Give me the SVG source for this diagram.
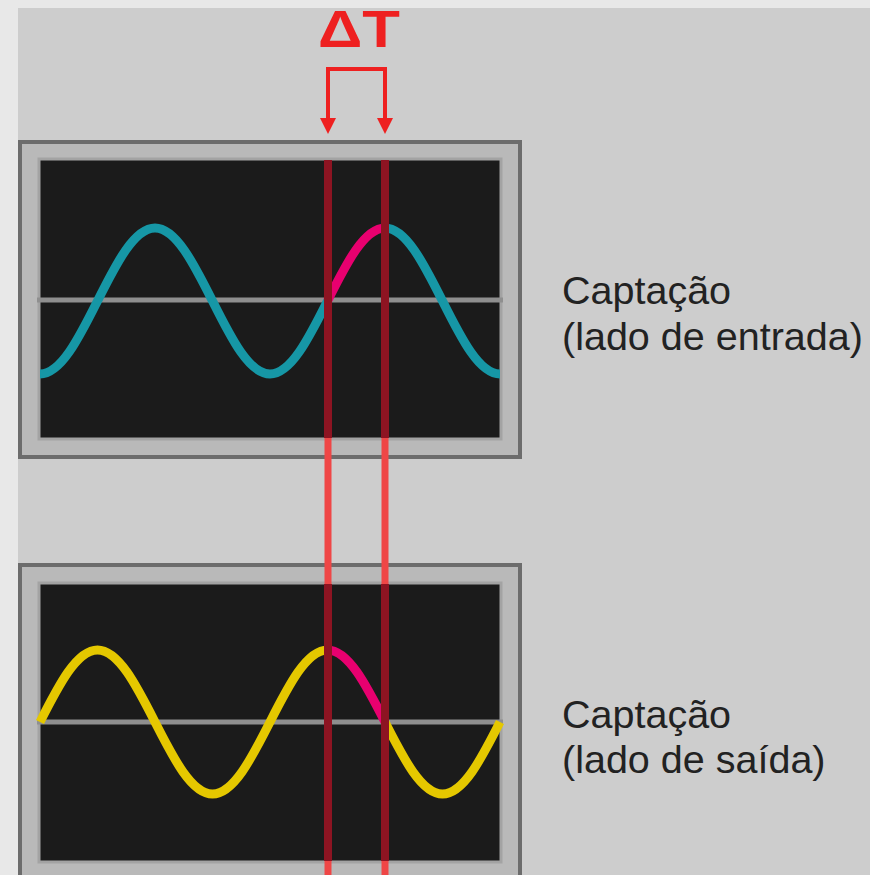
<svg xmlns="http://www.w3.org/2000/svg" width="870" height="875" viewBox="0 0 870 875">
<defs>
<style>
.frame{fill:#b9b9b9;stroke:#6c6c6c;stroke-width:4}
.screen{fill:#1b1b1b;stroke:#a3a3a3;stroke-width:3}
.axis{stroke:#8f8f8f;stroke-width:5;fill:none}
.cyan{stroke:#1697a6;stroke-width:9;fill:none}
.yellow{stroke:#e5c800;stroke-width:9;fill:none}
.mag{stroke:#e8006f;stroke-width:9;fill:none}
.rin{stroke:#8d1422;stroke-width:8;fill:none}
.rout{stroke:#ef4646;stroke-width:7;fill:none}
.lbl{font-family:"Liberation Sans",Arial,sans-serif;font-size:39.5px;fill:#222}
.red{stroke:#ee2020;stroke-width:4;fill:none}
</style>
</defs>
<rect x="0" y="0" width="870" height="875" fill="#e8e8e8"/>
<rect x="18" y="8" width="852" height="867" fill="#cdcdcd"/>

<g id="scope-top">
<rect class="frame" x="20" y="142" width="500" height="315"/>
<rect class="screen" x="39" y="159" width="462" height="280"/>
<line class="axis" x1="37" y1="300" x2="503" y2="300"/>
<path class="cyan" d="M40,374 C60.81,374 78.75,338.4 97.5,301 C116.25,263.6 134.19,228 155,228 C175.81,228 193.75,263.6 212.5,301 C231.25,338.4 249.19,374 270,374 C290.81,374 308.75,338.4 327.5,301"/>
<path class="cyan" d="M385,228 C405.81,228 423.75,263.6 442.5,301 C461.25,338.4 479.19,374 500,374"/>
<path class="mag" d="M327.5,301 C346.25,263.6 364.19,228 385,228"/>
</g>

<g id="scope-bottom">
<rect class="frame" x="20" y="565" width="500" height="330"/>
<rect class="screen" x="39" y="583" width="462" height="279"/>
<line class="axis" x1="37" y1="722" x2="503" y2="722"/>
<path class="yellow" d="M40,722 C58.75,685.1 76.69,650 97.5,650 C118.31,650 136.25,685.1 155,722 C173.75,758.9 191.69,794 212.5,794 C233.31,794 251.25,758.9 270,722 C288.75,685.1 306.69,650 327.5,650"/>
<path class="yellow" d="M385,722 C403.75,758.9 421.69,794 442.5,794 C463.31,794 481.25,758.9 500,722"/>
<path class="mag" d="M327.5,650 C348.31,650 366.25,685.1 385,722"/>
</g>

<g id="connectors">
<line class="rin" x1="328" y1="160" x2="328" y2="438"/>
<line class="rin" x1="385" y1="160" x2="385" y2="438"/>
<line class="rout" x1="328" y1="438" x2="328" y2="584"/>
<line class="rout" x1="385" y1="438" x2="385" y2="584"/>
<line class="rin" x1="328" y1="584" x2="328" y2="861"/>
<line class="rin" x1="385" y1="584" x2="385" y2="861"/>
<line class="rout" x1="328" y1="861" x2="328" y2="875"/>
<line class="rout" x1="385" y1="861" x2="385" y2="875"/>
</g>

<g id="delta-t">
<path class="red" d="M328,122 V69 H385 V122"/>
<polygon points="320,118 336,118 328,134" fill="#ee2020"/>
<polygon points="377,118 393,118 385,134" fill="#ee2020"/>
<text x="318" y="47" textLength="82" lengthAdjust="spacingAndGlyphs" font-family="Liberation Sans, Arial, sans-serif" font-weight="bold" font-size="52" fill="#ee2020">ΔT</text>
</g>

<g id="label-top">
<text class="lbl" x="562" y="304">Captação</text>
<text class="lbl" x="562" y="350">(lado de entrada)</text>
</g>
<g id="label-bottom">
<text class="lbl" x="562" y="728">Captação</text>
<text class="lbl" x="562" y="773">(lado de saída)</text>
</g>
</svg>
